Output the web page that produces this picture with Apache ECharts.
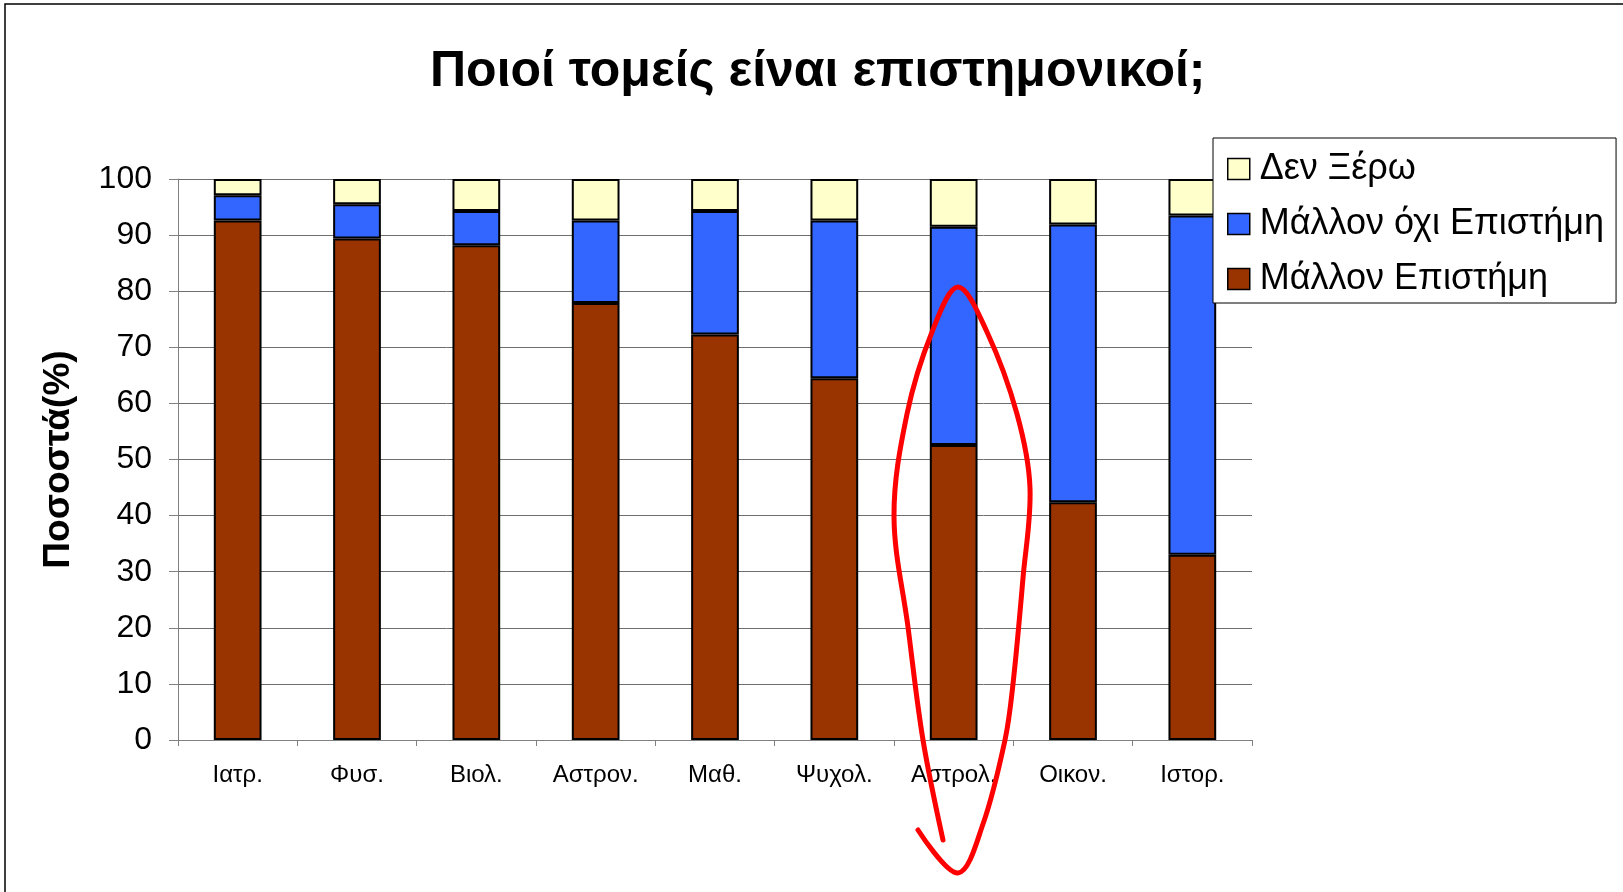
<!DOCTYPE html>
<html>
<head>
<meta charset="utf-8">
<title>Ποιοί τομείς είναι επιστημονικοί;</title>
<script src="https://cdn.jsdelivr.net/npm/echarts@6/dist/echarts.min.js"></script>
<style>
  html, body { margin: 0; padding: 0; background: #fff; }
  #chart { width: 1623px; height: 892px; }
</style>
</head>
<body>
<div id="chart"></div>
<script>
// κατηγορίες (άξονας x)
const categories = ["Ιατρ.", "Φυσ.", "Βιολ.", "Αστρον.", "Μαθ.", "Ψυχολ.", "Αστρολ.", "Οικον.", "Ιστορ."];

// ποσοστά ανά απάντηση (στοίβα, από κάτω προς τα πάνω)
const mallonEpistimi = [92.6, 89.4, 88.2, 77.9, 72.3, 64.5, 52.6, 42.4, 33.0];
const mallonOxi = [4.5, 6.1, 6.1, 14.7, 22.0, 28.1, 38.9, 49.5, 60.5];
const denXero = [2.9, 4.5, 5.7, 7.4, 5.7, 7.4, 8.5, 8.1, 6.5];

const yTicks = { min: 0, max: 100, interval: 10 };

const font = "'Liberation Sans', Arial, sans-serif";

const chart = echarts.init(document.getElementById("chart"));

const barBorder = { borderColor: "#000", borderWidth: 2 };

const option = {
  animation: false,
  backgroundColor: "#fff",
  title: {
    text: "Ποιοί τομείς είναι επιστημονικοί;",
    left: 425,
    top: 42,
    textStyle: { fontFamily: font, fontSize: 50, fontWeight: "bold", color: "#000" },
  },
  legend: {
    orient: "vertical",
    left: 1213,
    top: 138,
    data: ["Δεν Ξέρω", "Μάλλον όχι Επιστήμη", "Μάλλον Επιστήμη"],
    icon: "rect",
    itemWidth: 22,
    itemHeight: 21,
    itemGap: 19,
    padding: [13, 12, 6, 14],
    backgroundColor: "#fff",
    borderColor: "#000",
    borderWidth: 1,
    borderRadius: 0,
    z: 10,
    itemStyle: { borderColor: "#000", borderWidth: 1.5 },
    textStyle: { fontFamily: font, fontSize: 36, color: "#000", lineHeight: 33, padding: [0, 0, 0, 5] },
  },
  grid: { left: 178, right: 371, top: 179, bottom: 152 },
  xAxis: {
    type: "category",
    data: categories,
    axisLine: { lineStyle: { color: "#808080", width: 1 } },
    axisTick: { show: true, length: 6, lineStyle: { color: "#808080" } },
    axisLabel: { fontFamily: font, fontSize: 24, color: "#000", margin: 23 },
  },
  yAxis: {
    type: "value",
    min: yTicks.min,
    max: yTicks.max,
    interval: yTicks.interval,
    name: "Ποσοστά(%)",
    nameLocation: "middle",
    nameRotate: 90,
    nameGap: 101,
    nameTextStyle: { fontFamily: font, fontSize: 37, fontWeight: "bold", color: "#000" },
    axisLine: { show: true, lineStyle: { color: "#808080", width: 1 } },
    axisTick: { show: true, length: 9, lineStyle: { color: "#808080" } },
    axisLabel: { fontFamily: font, fontSize: 32, color: "#000", margin: 26 },
    splitLine: { show: true, lineStyle: { color: "#6e6e6e", width: 1 } },
  },
  series: [
    {
      name: "Μάλλον Επιστήμη",
      type: "bar",
      stack: "total",
      barWidth: "40%",
      data: mallonEpistimi,
      itemStyle: Object.assign({ color: "#993300" }, barBorder),
    },
    {
      name: "Μάλλον όχι Επιστήμη",
      type: "bar",
      stack: "total",
      barWidth: "40%",
      data: mallonOxi,
      itemStyle: Object.assign({ color: "#3366FF" }, barBorder),
    },
    {
      name: "Δεν Ξέρω",
      type: "bar",
      stack: "total",
      barWidth: "40%",
      data: denXero,
      itemStyle: Object.assign({ color: "#FFFFCC" }, barBorder),
    },
  ],
  graphic: [
    {
      // πλαίσιο της διαφάνειας
      type: "rect",
      shape: { x: 5, y: 4, width: 1700, height: 1000 },
      style: { fill: null, stroke: "#000", lineWidth: 1.5 },
      silent: true,
      z: 0,
    },
    {
      // κόκκινο χειρόγραφο κύκλωμα γύρω από την Αστρολογία
      type: "polyline",
      shape: {
        points: [
          [943, 840], [923, 740], [908, 627], [894, 516], [907, 414], [932, 332],
          [958, 287], [987, 332], [1017, 414], [1030, 488], [1023, 578], [1013, 684],
          [1005, 740], [983, 824], [958, 873], [918, 830],
        ],
        smooth: 0.35,
      },
      style: { stroke: "#ff0000", lineWidth: 5, fill: null, lineCap: "round", lineJoin: "round" },
      silent: true,
      z: 100,
    },
  ],
};

chart.setOption(option);
window.onresize = function () {
  chart.resize();
};
</script>
</body>
</html>
